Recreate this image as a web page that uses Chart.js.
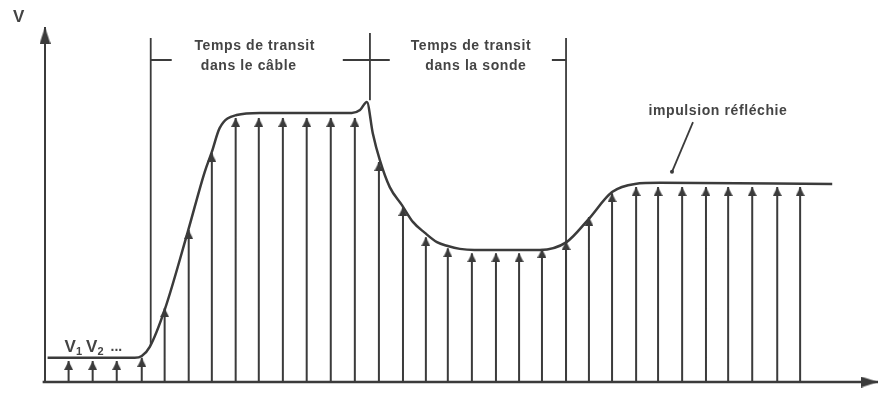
<!DOCTYPE html>
<html>
<head>
<meta charset="utf-8">
<script src="https://cdn.jsdelivr.net/npm/chart.js@4.4.0/dist/chart.umd.min.js"></script>
<style>
  html, body { margin: 0; padding: 0; background: #fff; }
  #wrap { width: 891px; height: 412px; position: relative; }
</style>
</head>
<body>
<div id="wrap"><canvas id="myChart"></canvas></div>
<script>
// sampling instants (stems) and the sampled voltage at each arrow tip
const stemT = [1.0, 2.02, 3.04, 4.1, 5.07, 6.09, 7.07, 8.08, 9.06, 10.08, 11.09, 12.11, 13.13, 14.15, 15.17, 16.14,
  17.07, 18.09, 19.11, 20.09, 21.06, 22.08, 23.05, 24.03, 25.05, 25.98, 27.0, 28.01, 28.95, 29.97, 31.03, 32.0];
const stemV = [5.9, 5.9, 5.9, 6.8, 20.8, 42.8, 64.5, 74.4, 74.4, 74.4, 74.4, 74.4, 74.4, 62.0, 49.3, 40.8,
  37.7, 36.3, 36.3, 36.3, 37.5, 39.7, 46.5, 53.2, 54.9, 54.9, 54.9, 54.9, 54.9, 54.9, 54.9, 54.9];

// reflected waveform
const curveT = [0.11, 3.8, 4.1, 4.44, 5.07, 6.05, 6.77, 7.07, 7.4, 8.12, 9.1, 13.0, 13.35, 13.64, 13.89, 14.19,
  14.61, 15.12, 15.59, 16.1, 16.61, 17.07, 17.58, 18.2, 20.97, 22.1, 23.0, 24.03, 25.0, 26.06, 33.36];
const curveV = [6.8, 6.8, 7.3, 9.9, 20.3, 42.3, 59.2, 64.8, 71.5, 75.2, 75.8, 75.8, 76.6, 78.9, 70.1, 62.5,
  54.9, 49.9, 45.1, 42.0, 39.4, 38.3, 37.5, 37.2, 37.2, 39.4, 45.6, 53.5, 55.8, 56.1, 55.8];

// transit time markers
const markerT = [4.48, 13.77, 22.08];
const markerTop = [96.9, 98.3, 96.9];
const markerBottom = [10.4, 79.4, 0];
const tickLevel = 90.7;
const tickFrom = [4.48, 12.62, 21.48];
const tickTo = [5.37, 14.61, 22.08];

// axis ends
const xMax = 35.3;
const yMax = 100;

const ink = '#3b3b3b';

// arrowhead images, tip at the image centre
function arrowHead(w, h) {
  const c = document.createElement('canvas');
  c.width = w;
  c.height = h * 2;
  const g = c.getContext('2d');
  g.fillStyle = ink;
  g.beginPath();
  g.moveTo(w / 2, h);
  g.lineTo(w, h * 2);
  g.lineTo(0, h * 2);
  g.closePath();
  g.fill();
  return c;
}
const stemHead = arrowHead(9, 9);
const axisHead = arrowHead(11, 17);

// build broken line data: one segment per stem / marker
function segments(xs, from, to) {
  const out = [];
  xs.forEach((t, i) => {
    out.push({x: t, y: from[i]}, {x: t, y: to[i]}, {x: t, y: null});
  });
  return out;
}

const stems = segments(stemT, stemT.map(() => 0), stemV);
const markers = segments(markerT, markerBottom, markerTop);
const ticks = [];
tickFrom.forEach((t, i) => {
  ticks.push({x: t, y: tickLevel}, {x: tickTo[i], y: tickLevel}, {x: t, y: null});
});

// text notes
const notes = [
  {text: 'Temps de transit', t: 8.89, v: 94.6},
  {text: 'dans le câble', t: 8.63, v: 89.0},
  {text: 'Temps de transit', t: 18.05, v: 94.6},
  {text: 'dans la sonde', t: 18.26, v: 89.0},
  {text: 'impulsion réfléchie', t: 28.52, v: 76.3}
];

const notePlugin = {
  id: 'notes',
  afterDatasetsDraw(chart) {
    const {ctx, scales: {x, y}} = chart;
    ctx.save();
    ctx.fillStyle = '#444';
    ctx.textAlign = 'center';
    ctx.textBaseline = 'middle';
    ctx.font = 'bold 14px "Liberation Sans", Arial, sans-serif';
    ctx.letterSpacing = '0.6px';
    notes.forEach(n => ctx.fillText(n.text, x.getPixelForValue(n.t), y.getPixelForValue(n.v)));
    ctx.letterSpacing = '0px';

    // axis name
    ctx.font = 'bold 17px "Liberation Sans", Arial, sans-serif';
    ctx.fillText('V', x.getPixelForValue(-1.12), y.getPixelForValue(102.8));

    // V1 V2 ...
    ctx.textAlign = 'left';
    ctx.textBaseline = 'alphabetic';
    let px = x.getPixelForValue(0.83);
    const base = y.getPixelForValue(8.45);
    [['V', '1'], ['V', '2']].forEach(p => {
      ctx.font = 'bold 17px "Liberation Sans", Arial, sans-serif';
      ctx.fillText(p[0], px, base);
      px += ctx.measureText(p[0]).width;
      ctx.font = 'bold 11px "Liberation Sans", Arial, sans-serif';
      ctx.fillText(p[1], px, base + 3);
      px += ctx.measureText(p[1]).width + 4;
    });
    ctx.font = 'bold 14px "Liberation Sans", Arial, sans-serif';
    ctx.fillText('...', px + 3, base - 1);
    ctx.restore();
  }
};

const config = {
  type: 'line',
  data: {
    datasets: [
      // axes
      {data: [{x: 0, y: 0}, {x: 0, y: yMax}], borderColor: ink, borderWidth: 2, pointRadius: [0, 1],
        pointStyle: axisHead, clip: false},
      {data: [{x: -0.1, y: 0}, {x: xMax, y: 0}], borderColor: ink, borderWidth: 2.5, pointRadius: [0, 1],
        pointStyle: axisHead, pointRotation: 90, clip: false},
      // sampling stems
      {data: stems, borderColor: ink, borderWidth: 2, pointRadius: 0, spanGaps: false, clip: false},
      {data: stemT.map((t, i) => ({x: t, y: stemV[i]})), showLine: false, pointStyle: stemHead, pointRadius: 5, clip: false},
      // transit markers
      {data: markers, borderColor: ink, borderWidth: 1.8, pointRadius: 0, spanGaps: false, clip: false},
      {data: ticks, borderColor: ink, borderWidth: 1.8, pointRadius: 0, spanGaps: false, clip: false},
      // leader line
      {data: [{x: 27.46, y: 73.2}, {x: 26.57, y: 59.2}], borderColor: ink, borderWidth: 1.8,
        pointRadius: [0, 2], pointBackgroundColor: ink, pointBorderWidth: 0, clip: false},
      // waveform
      {data: curveT.map((t, i) => ({x: t, y: curveV[i]})), borderColor: ink, borderWidth: 2.5, pointRadius: 0,
        cubicInterpolationMode: 'monotone', clip: false}
    ]
  },
  options: {
    responsive: true,
    maintainAspectRatio: false,
    animation: false,
    events: [],
    layout: {padding: {left: 45, right: 13, top: 27, bottom: 30}},
    plugins: {legend: {display: false}, tooltip: {enabled: false}},
    scales: {
      x: {type: 'linear', min: 0, max: xMax, display: false},
      y: {min: 0, max: yMax, display: false}
    }
  },
  plugins: [notePlugin]
};

const myChart = new Chart(document.getElementById('myChart'), config);
</script>
</body>
</html>
